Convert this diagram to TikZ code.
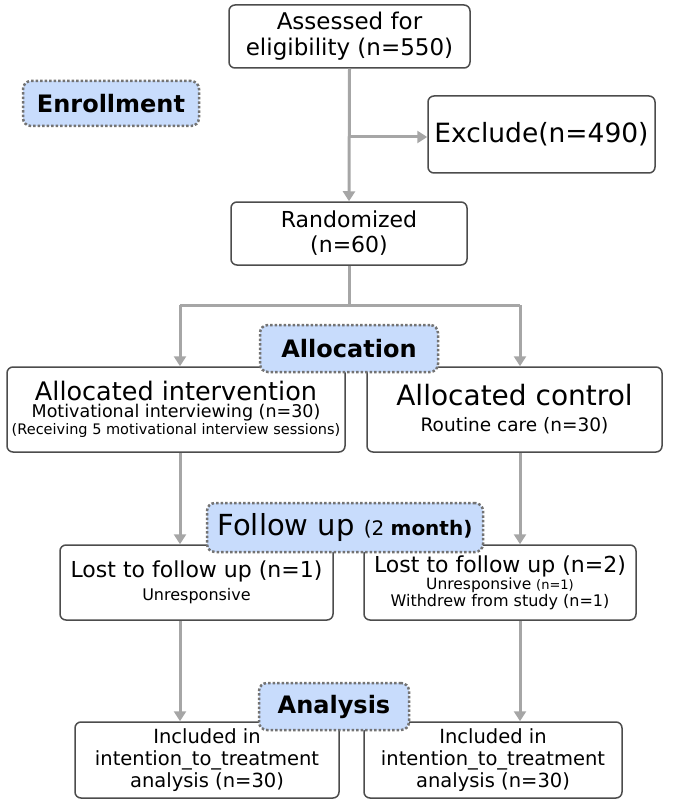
\documentclass[tikz,border=0pt]{standalone}
\usepackage{fontspec}
\setmainfont{DejaVu Sans}
\usetikzlibrary{arrows.meta}
\definecolor{lb}{RGB}{200,220,252}
\begin{document}
\begin{tikzpicture}[x=1pt,y=-1pt,
 box/.style={draw=black!70,line width=1.5pt,rounded corners=6pt,fill=white,align=center,inner sep=1pt},
 lab/.style={draw=black!55,dotted,line width=2.5pt,rounded corners=8pt,fill=lb,font=\fontsize{24}{26}\selectfont\bfseries,inner sep=0pt},
 con/.style={draw=black!35,line width=3pt},
 arr/.style={con,-{Triangle[length=10pt,width=12pt]}}]
\useasboundingbox (0,0) rectangle (685,805);
\node[box,minimum width=241pt,minimum height=63pt,font=\fontsize{23}{26}\selectfont] (ass) at (349.5,36.5) {Assessed for\\eligibility (n=550)};
\node[lab,minimum width=176pt,minimum height=45pt] (enr) at (111,103.5) {Enrollment};
\node[box,minimum width=227pt,minimum height=77pt,font=\fontsize{26.5}{28}\selectfont] (exc) at (541.5,134.5) {Exclude(n=490)};
\node[box,minimum width=236pt,minimum height=63pt,font=\fontsize{22}{25}\selectfont] (ran) at (349,233.5) {Randomized\\(n=60)};
\node[box,minimum width=338pt,minimum height=85pt,font=\fontsize{13}{17}\selectfont] (int) at (176,409.5) {{\fontsize{25.5}{27}\selectfont Allocated intervention}\\{\fontsize{17.5}{19}\selectfont Motivational interviewing (n=30)}\\{\fontsize{14.5}{16}\selectfont (Receiving 5 motivational interview sessions)}};
\node[box,minimum width=295pt,minimum height=85pt,font=\fontsize{16}{26}\selectfont] (ctl) at (514.5,409.5) {{\fontsize{28}{30}\selectfont Allocated control}\\{\fontsize{18.5}{20}\selectfont Routine care (n=30)}};
\node[box,minimum width=273pt,minimum height=75pt,font=\fontsize{14}{23}\selectfont] (l1) at (196.5,582.5) {{\fontsize{22}{24}\selectfont Lost to follow up (n=1)}\\{\fontsize{16}{18}\selectfont Unresponsive}};
\node[box,minimum width=272pt,minimum height=75pt,font=\fontsize{13}{17}\selectfont] (l2) at (500,582.5) {{\fontsize{22}{24}\selectfont Lost to follow up (n=2)}\\{\fontsize{15.5}{16}\selectfont Unresponsive {\fontsize{13}{14}\selectfont(n=1)}}\\{\fontsize{16}{17}\selectfont Withdrew from study (n=1)}};
\node[box,minimum width=264pt,minimum height=76pt,font=\fontsize{19.5}{22}\selectfont] (i1) at (207,760) {Included in\\intention\_to\_treatment\\analysis (n=30)};
\node[box,minimum width=258pt,minimum height=76pt,font=\fontsize{19.5}{22}\selectfont] (i2) at (493,760) {Included in\\intention\_to\_treatment\\analysis (n=30)};
\coordinate (br) at (349,137);
\coordinate (sp) at (349,305);
\coordinate (spl) at (180,305);
\coordinate (spr) at (520,305);
\draw[arr] (ass.south) -- (ran.north);
\draw[arr] (br) -- (br -| exc.west);
\draw[con] (ran.south) -- (sp);
\draw[con] (spl) -- (spr);
\draw[arr] (spl) -- (spl |- int.north);
\draw[arr] (spr) -- (spr |- ctl.north);
\draw[arr] (spl |- int.south) -- (spl |- l1.north);
\draw[arr] (spr |- ctl.south) -- (spr |- l2.north);
\draw[arr] (spl |- l1.south) -- (spl |- i1.north);
\draw[arr] (spr |- l2.south) -- (spr |- i2.north);
\node[lab,minimum width=178pt,minimum height=47pt] (all) at (349,348.5) {Allocation};
\node[lab,minimum width=276pt,minimum height=49pt,font=\fontsize{29}{30}\selectfont] (fol) at (345,527.5) {Follow up {\fontsize{20}{22}\selectfont(2 \bfseries month)}};
\node[lab,minimum width=150pt,minimum height=47pt] (ana) at (334,706.5) {Analysis};
\end{tikzpicture}
\end{document}
